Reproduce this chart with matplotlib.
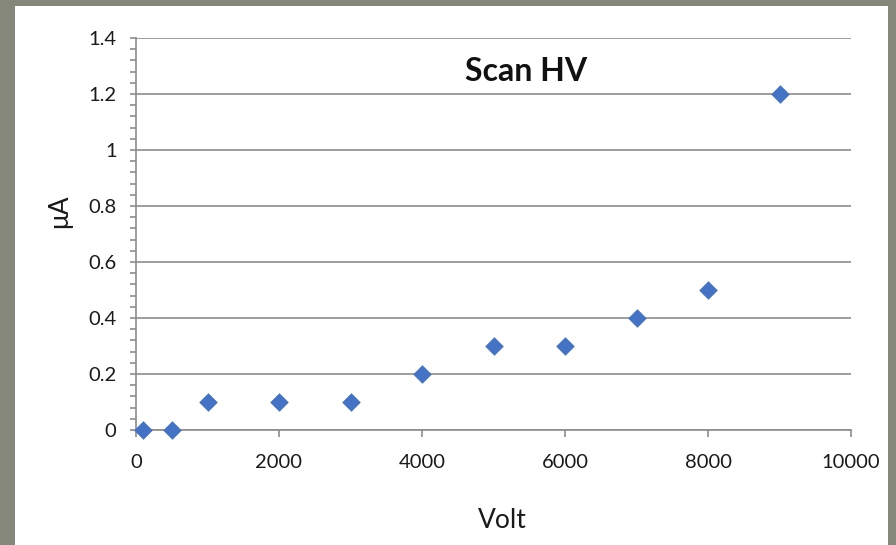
import matplotlib
matplotlib.use("Agg")
import matplotlib.pyplot as plt
from matplotlib.patches import Rectangle
from matplotlib.ticker import MultipleLocator, FuncFormatter

volts = [100, 500, 1000, 2000, 3000, 4000, 5000, 6000, 7000, 8000, 9000]
current_uA = [0, 0, 0.1, 0.1, 0.1, 0.2, 0.3, 0.3, 0.4, 0.5, 1.2]
title = "Scan HV"
xlabel = "Volt"
ylabel = "μA"

plt.rcParams['font.family'] = ['Lato', 'DejaVu Sans']

fig = plt.figure(figsize=(8.96, 5.45), dpi=100)
fig.patch.set_facecolor('#85877a')
bg = Rectangle((15/896, 0), (888-15)/896, 1 - 6/545,
               transform=fig.transFigure, facecolor='white',
               edgecolor='none', zorder=-10)
fig.patches.append(bg)

ax = fig.add_axes([136/896, 1 - 430/545, (851-136)/896, (430-38)/545])
ax.set_zorder(5)
ax.set_facecolor('white')
ax.scatter(volts, current_uA, marker='D', s=90, color='#4472c4', zorder=3,
           clip_on=False, linewidths=0)

ax.set_xlim(0, 10000)
ax.set_ylim(0, 1.4)
ax.xaxis.set_major_locator(MultipleLocator(2000))
ax.yaxis.set_major_locator(MultipleLocator(0.2))
ax.yaxis.set_minor_locator(MultipleLocator(0.04))
ax.yaxis.set_major_formatter(FuncFormatter(lambda v, p: f"{v:g}"))
ax.xaxis.set_major_formatter(FuncFormatter(lambda v, p: f"{v:g}"))

ax.grid(axis='y', which='major', color='#8c8c8c', linewidth=1.2, zorder=1)
for s in ['top', 'right']:
    ax.spines[s].set_visible(False)
for s in ['left', 'bottom']:
    ax.spines[s].set_color('#8c8c8c')
    ax.spines[s].set_linewidth(1.2)

ax.tick_params(axis='both', which='both', color='#8c8c8c', width=1.2,
               labelsize=14.5, labelcolor='#1a1a1a')
ax.tick_params(axis='y', which='major', length=4, pad=10)
ax.tick_params(axis='y', which='minor', length=4)
ax.tick_params(axis='x', which='major', length=5, pad=12)

ax.set_xlabel(xlabel, fontsize=19, color='#1a1a1a', va='center')
ax.set_ylabel(ylabel, fontsize=19, color='#1a1a1a', va='center')
ax.xaxis.set_label_coords(0.512, (430 - 520) / 392)
ax.yaxis.set_label_coords((60 - 136) / 715, (430 - 211) / 392)
ax.text(0.545, 0.915, title, transform=ax.transAxes, ha='center', va='center',
        fontsize=23, fontweight='bold', color='#111111')

fig.savefig("out.png", dpi=100, facecolor=fig.get_facecolor())
